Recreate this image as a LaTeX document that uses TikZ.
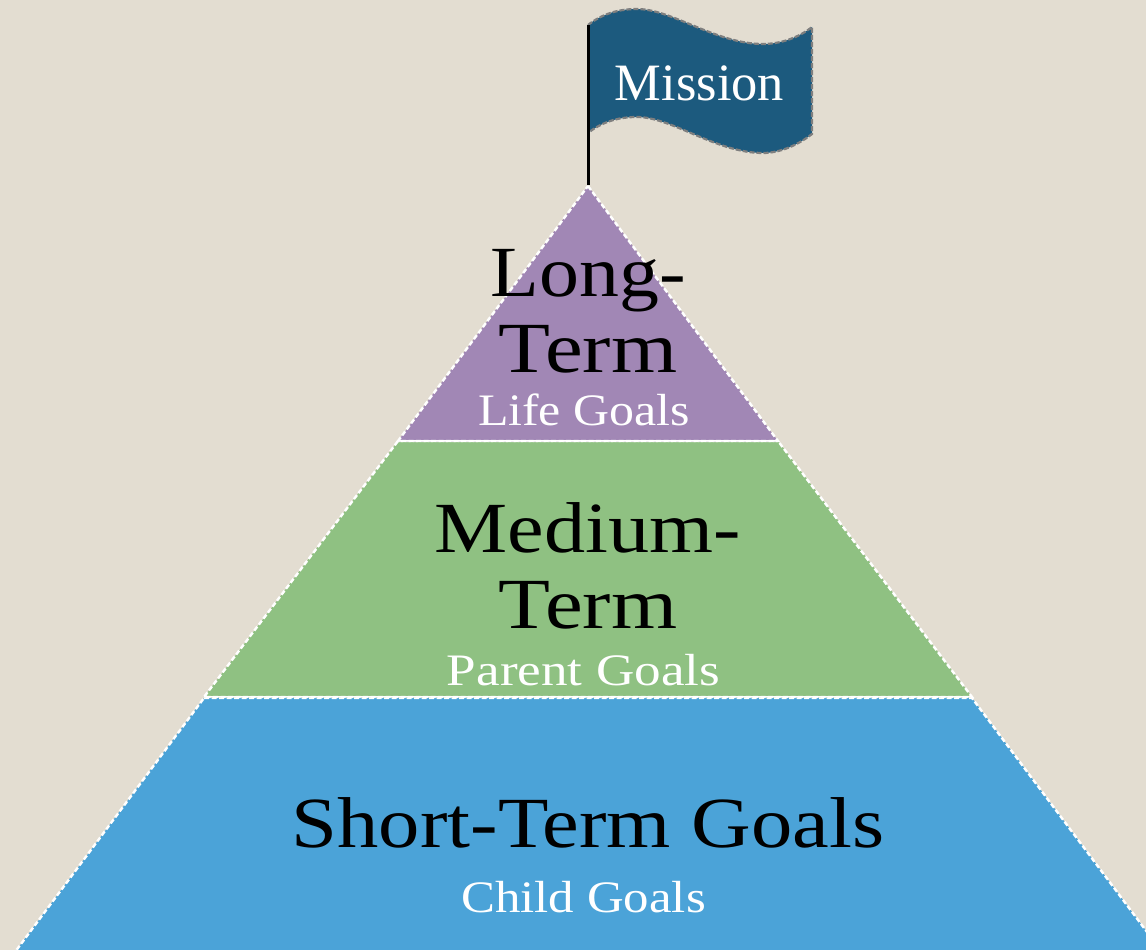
\documentclass[tikz,border=0pt]{standalone}
\usepackage{fontspec}
\usepackage{graphicx}
\setmainfont{Liberation Serif}
\newfontfamily\geo[FakeStretch=1.12]{Liberation Serif}
\newcommand\widen[2]{\scalebox{#1}[1]{#2}}
\definecolor{bgc}{HTML}{E3DDD1}
\definecolor{flagc}{HTML}{1C5A7E}
\definecolor{purp}{HTML}{A187B5}
\definecolor{grn}{HTML}{8FC182}
\definecolor{blu}{HTML}{4BA3D8}
\definecolor{edge}{HTML}{7F7F7F}
\tikzset{
  tier/.style={draw=white,line width=2.4pt,dash pattern=on 5pt off 2.5pt},
  headline/.style={anchor=base,inner sep=0pt,text=black,font=\geo\fontsize{72}{72}\selectfont},
  subline/.style={anchor=base,inner sep=0pt,text=white,font=\geo\fontsize{45}{45}\selectfont},
  flagtext/.style={anchor=base,inner sep=0pt,text=white,font=\fontsize{52.5}{52.5}\selectfont}
}
\begin{document}
\begin{tikzpicture}[x=1pt,y=-1pt]
\useasboundingbox (0,0) rectangle (1146,950);
\fill[bgc] (0,0) rectangle (1146,950);
\begin{scope}
\clip (0,0) rectangle (1146,950);
% tiers
\path[fill=blu,tier] (204,698) -- (972,698) -- (1162,952) -- (15,952) -- cycle;
\path[fill=grn,tier] (398,441) -- (778,441) -- (972,697) -- (204,697) -- cycle;
\path[fill=purp,tier] (588,186) -- (778,441) -- (398,441) -- cycle;
\draw[white,line width=1.5pt] (204,696.4) -- (972,696.4);
\draw[white,line width=1.5pt] (398,440.4) -- (778,440.4);
% flag
\path[fill=flagc,draw=edge,line width=2.2pt,dash pattern=on 5pt off 2pt]
  (588,25) .. controls (602,14) and (618,9) .. (637,9)
  .. controls (672,9) and (716,44) .. (763,44)
  .. controls (780,44) and (798,38) .. (812,27)
  -- (812,134)
  .. controls (798,145) and (780,153) .. (763,153)
  .. controls (716,153) and (672,117) .. (637,117)
  .. controls (618,117) and (602,122) .. (588,133);
\end{scope}
\draw[black,line width=3pt] (588,25) -- (588,185);
\node[flagtext] (mission) at (699.5,100) {Mission};
\node[headline] (long) at (588.5,296) {\widen{0.99}{Long-}};
\node[headline] (longb) at (588,372) {\widen{1.054}{Term}};
\node[subline] (life) at (584,425) {\widen{0.99}{Life Goals}};
\node[headline] (medium) at (587.5,552) {\widen{1.02}{Medium-}};
\node[headline] (mediumb) at (588,628) {\widen{1.054}{Term}};
\node[subline] (parent) at (583.5,685) {\widen{1.055}{Parent Goals}};
\node[headline] (short) at (588,847) {\widen{1.024}{Short-Term Goals}};
\node[subline] (child) at (583.5,912) {\widen{1.01}{Child Goals}};
\end{tikzpicture}
\end{document}
